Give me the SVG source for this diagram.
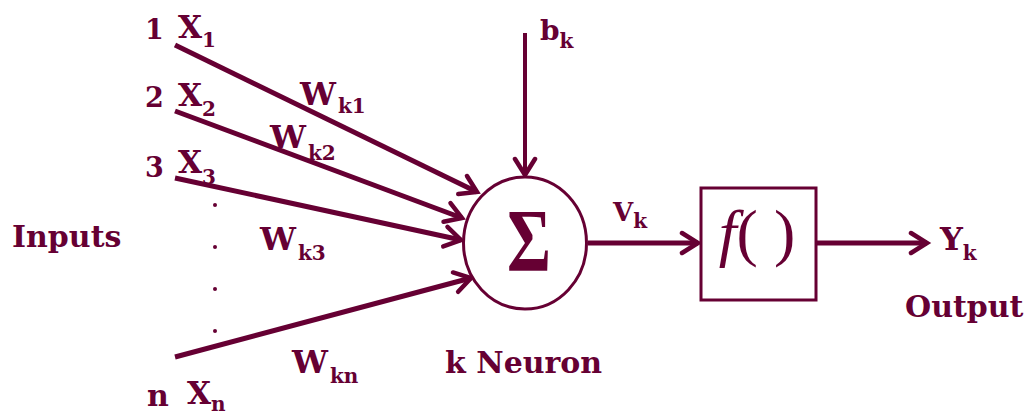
<svg xmlns="http://www.w3.org/2000/svg" width="1028" height="414" viewBox="0 0 1028 414">
<style>
text{fill:#660033;font-family:"DejaVu Serif","Liberation Serif",serif;font-weight:bold}
.lbl{font-size:30px}
.x{font-size:31px}
.num{font-size:27px}
.w{font-size:32px}
.sub{font-size:20px}
.conn{stroke:#660033;stroke-width:5;fill:none;marker-end:url(#arr)}
.shape{stroke:#660033;stroke-width:3;fill:#ffffff}
</style>
<defs>
<marker id="arr" markerUnits="userSpaceOnUse" markerWidth="26" markerHeight="26" viewBox="0 0 26 26" refX="20" refY="13" orient="auto">
<path d="M4,3 L20,13 L4,23" fill="none" stroke="#660033" stroke-width="4.5" stroke-linecap="round" stroke-linejoin="miter"/>
</marker>
</defs>
<rect width="1028" height="414" fill="#ffffff"/>
<g id="connectors">
<line class="conn" x1="175" y1="45" x2="477" y2="192"/>
<line class="conn" x1="175" y1="111" x2="462" y2="218"/>
<line class="conn" x1="175" y1="178" x2="461" y2="240"/>
<line class="conn" x1="175" y1="357" x2="471" y2="278"/>
<line class="conn" style="stroke-width:4" x1="525" y1="33" x2="525" y2="175"/>
<line class="conn" x1="588" y1="243" x2="698" y2="243"/>
<line class="conn" x1="817" y1="243" x2="927" y2="243"/>
</g>
<g id="input-1">
<text class="num" x="145" y="39">1</text>
<text class="x" x="178" y="38">X<tspan class="sub" dy="9">1</tspan></text>
</g>
<g id="input-2">
<text class="num" x="145" y="107">2</text>
<text class="x" x="178" y="106">X<tspan class="sub" dy="10">2</tspan></text>
</g>
<g id="input-3">
<text class="num" x="145" y="177">3</text>
<text class="x" x="178" y="173">X<tspan class="sub" dy="11">3</tspan></text>
</g>
<g id="input-dots" fill="#660033">
<circle cx="215" cy="205" r="2"/>
<circle cx="215" cy="247" r="2"/>
<circle cx="215" cy="289" r="2"/>
<circle cx="215" cy="331" r="2"/>
</g>
<g id="input-n">
<text class="lbl" x="147" y="406">n</text>
<text class="x" x="187" y="404">X<tspan class="sub" dy="7">n</tspan></text>
</g>
<g id="inputs-label">
<text class="lbl" x="12" y="247">Inputs</text>
</g>
<g id="weights">
<text class="w" x="300" y="105">W<tspan class="sub" dx="2" dy="8">k1</tspan></text>
<text class="w" x="270" y="148">W<tspan class="sub" dx="2" dy="12">k2</tspan></text>
<text class="w" x="260" y="250">W<tspan class="sub" dx="2" dy="10">k3</tspan></text>
<text class="w" x="292" y="373">W<tspan class="sub" dx="2" dy="10">kn</tspan></text>
</g>
<g id="bias">
<text x="540" y="40" style="font-size:28px">b<tspan class="sub" dy="8">k</tspan></text>
</g>
<g id="sum-node">
<ellipse class="shape" cx="525" cy="243" rx="61.5" ry="66"/>
<text x="507" y="270" style="font-family:'Liberation Serif',serif;font-size:88px" textLength="44" lengthAdjust="spacingAndGlyphs">Σ</text>
<text class="lbl" x="445" y="373">k Neuron</text>
</g>
<g id="vk-label">
<text x="613" y="221" style="font-size:26px">V<tspan class="sub" dy="7">k</tspan></text>
</g>
<g id="activation-node">
<rect class="shape" x="701" y="188" width="115" height="112"/>
<text x="757" y="254" text-anchor="middle" style="font-family:'Liberation Serif',serif;font-weight:normal;font-size:64px"><tspan font-style="italic">f</tspan>( )</text>
</g>
<g id="output">
<text x="940" y="250" style="font-size:32px">Y<tspan class="sub" dy="10">k</tspan></text>
<text class="lbl" x="905" y="317">Output</text>
</g>
</svg>
